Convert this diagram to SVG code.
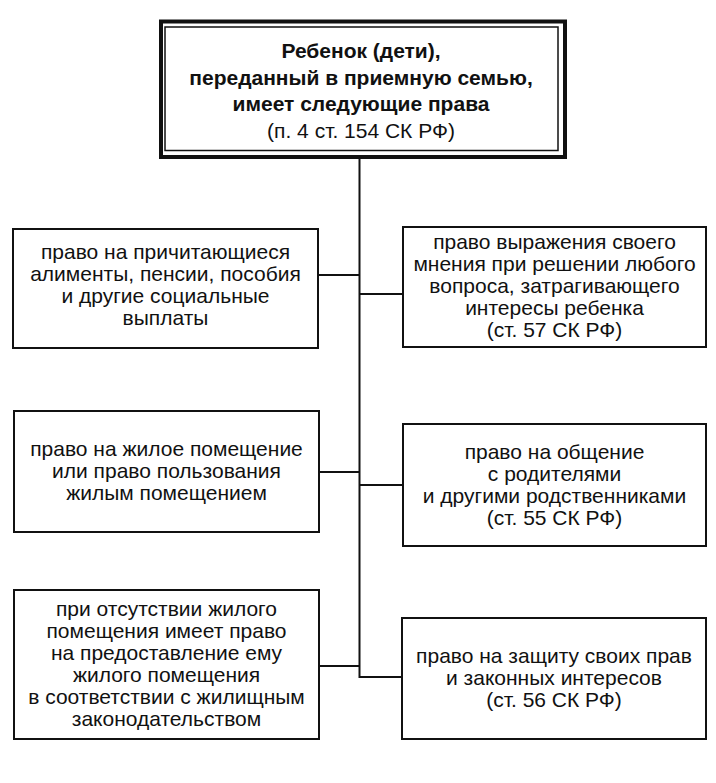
<svg xmlns="http://www.w3.org/2000/svg" width="716" height="783" viewBox="0 0 716 783">
<style>
.bg{fill:#fff}
.box{fill:#fff;stroke:#111;stroke-width:2}
.outer{fill:#fff;stroke:#111;stroke-width:4}
.inner{fill:none;stroke:#111;stroke-width:1.5}
.t{font-family:"Liberation Sans",Arial,sans-serif;font-size:21px;fill:#111;text-anchor:middle}
.b{font-weight:bold}
.conn{fill:none;stroke:#111;stroke-width:2}
</style>
<rect class="bg" x="0" y="0" width="716" height="783"/>
<g id="connectors">
<path class="conn" d="M359.5 159 V677 H402"/>
<path class="conn" d="M318 275 H359.5"/>
<path class="conn" d="M359.5 294 H403"/>
<path class="conn" d="M319 472 H359.5"/>
<path class="conn" d="M359.5 485 H403"/>
<path class="conn" d="M319 666 H359.5"/>
</g>
<g id="root">
<rect class="outer" x="161" y="21.5" width="404" height="135.5"/>
<rect class="inner" x="165" y="27" width="393" height="123.5"/>
<text class="t b"><tspan x="361" y="58">Ребенок (дети),</tspan><tspan x="361" y="84.5">переданный в приемную семью,</tspan><tspan x="361" y="111">имеет следующие права</tspan></text>
<text class="t"><tspan x="361" y="137.5">(п. 4 ст. 154 СК РФ)</tspan></text>
</g>
<g id="left1">
<rect class="box" x="13" y="229" width="305" height="119"/>
<text class="t"><tspan x="165.5" y="259">право на причитающиеся</tspan><tspan x="165.5" y="281">алименты, пенсии, пособия</tspan><tspan x="165.5" y="303">и другие социальные</tspan><tspan x="165.5" y="325">выплаты</tspan></text>
</g>
<g id="right1">
<rect class="box" x="403" y="227" width="303" height="120"/>
<text class="t"><tspan x="554.5" y="249">право выражения своего</tspan><tspan x="554.5" y="271">мнения при решении любого</tspan><tspan x="554.5" y="293">вопроса, затрагивающего</tspan><tspan x="554.5" y="315">интересы ребенка</tspan><tspan x="554.5" y="337">(ст. 57 СК РФ)</tspan></text>
</g>
<g id="left2">
<rect class="box" x="14" y="411" width="305" height="121"/>
<text class="t"><tspan x="166.5" y="455.5">право на жилое помещение</tspan><tspan x="166.5" y="477.5">или право пользования</tspan><tspan x="166.5" y="499.5">жилым помещением</tspan></text>
</g>
<g id="right2">
<rect class="box" x="403" y="424" width="303" height="122"/>
<text class="t"><tspan x="554.5" y="459">право на общение</tspan><tspan x="554.5" y="481">с родителями</tspan><tspan x="554.5" y="503">и другими родственниками</tspan><tspan x="554.5" y="525">(ст. 55 СК РФ)</tspan></text>
</g>
<g id="left3">
<rect class="box" x="14" y="590" width="305" height="149"/>
<text class="t"><tspan x="166.5" y="615.5">при отсутствии жилого</tspan><tspan x="166.5" y="637.5">помещения имеет право</tspan><tspan x="166.5" y="659.5">на предоставление ему</tspan><tspan x="166.5" y="681.5">жилого помещения</tspan><tspan x="166.5" y="703.5">в соответствии с жилищным</tspan><tspan x="166.5" y="725.5">законодательством</tspan></text>
</g>
<g id="right3">
<rect class="box" x="402" y="618" width="304" height="121"/>
<text class="t"><tspan x="554" y="662.5">право на защиту своих прав</tspan><tspan x="554" y="684.5">и законных интересов</tspan><tspan x="554" y="706.5">(ст. 56 СК РФ)</tspan></text>
</g>
</svg>
